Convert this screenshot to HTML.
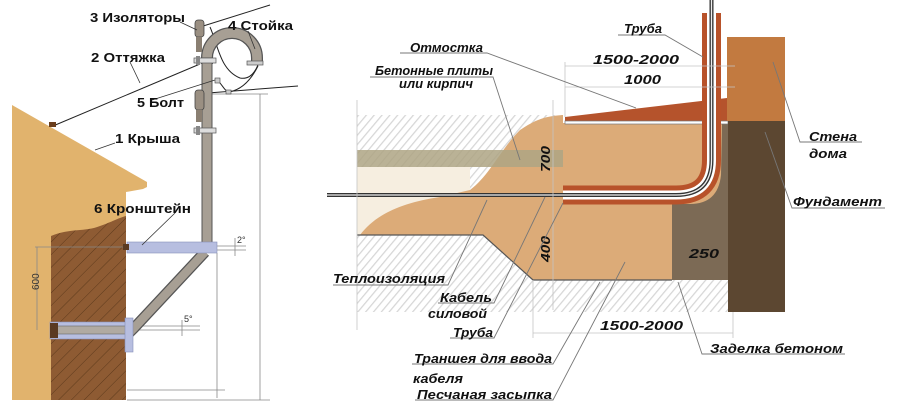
<!DOCTYPE html>
<html><head><meta charset="utf-8"><style>
html,body{margin:0;padding:0;background:#fff;}
svg{display:block;}
.l{font-family:"Liberation Sans",sans-serif;font-weight:bold;font-size:13px;fill:#111;}
.r{font-family:"Liberation Sans",sans-serif;font-weight:bold;font-style:italic;font-size:13px;fill:#111;}
</style></head><body>
<svg width="900" height="413" viewBox="0 0 900 413" xmlns="http://www.w3.org/2000/svg">
<defs>
<pattern id="h" width="6" height="6" patternUnits="userSpaceOnUse" patternTransform="rotate(40)">
<rect width="6" height="6" fill="#fff"/><line x1="0" y1="0" x2="0" y2="6" stroke="#d6d6d6" stroke-width="2.5"/></pattern>
<pattern id="b" width="9" height="9" patternUnits="userSpaceOnUse" patternTransform="rotate(45)">
<rect width="9" height="9" fill="#8e5b33"/><line x1="0" y1="0" x2="0" y2="9" stroke="#5e3a1c" stroke-width="1"/></pattern>
</defs>

<!-- LEFT DIAGRAM -->
<polygon points="12,105 147,182 147,187 143,189 126,192 126,400 12,400" fill="#e1b36d"/>
<path d="M51,236 C70,228 85,232 100,226 C112,222 118,218 126,216 L126,400 L51,400 Z" fill="url(#b)"/>
<!-- dimension lines -->
<g stroke="#888" stroke-width="0.8" fill="none">
<line x1="35" y1="247" x2="127" y2="247"/>
<line x1="37" y1="247" x2="37" y2="330"/>
<line x1="217" y1="253" x2="217" y2="398"/>
<line x1="127" y1="390" x2="225" y2="390"/>
<line x1="127" y1="400" x2="270" y2="400"/>
<line x1="260" y1="94" x2="260" y2="400"/>
<line x1="208" y1="94" x2="268" y2="94"/>
<line x1="217" y1="246" x2="246" y2="246"/>
<line x1="217" y1="250" x2="246" y2="250"/>
<line x1="235" y1="238" x2="235" y2="256"/>
<line x1="133" y1="326" x2="200" y2="326"/>
<line x1="133" y1="330" x2="200" y2="330"/>
<line x1="182" y1="320" x2="182" y2="336"/>
</g>
<text x="237" y="243" font-family="Liberation Sans" font-size="9" fill="#333">2°</text>
<text x="184" y="322" font-family="Liberation Sans" font-size="9" fill="#333">5°</text>
<text transform="translate(39,290) rotate(-90)" font-family="Liberation Sans" font-size="10" fill="#333">600</text>
<!-- wires -->
<g stroke="#222" stroke-width="1" fill="none">
<line x1="200" y1="27" x2="270" y2="5"/>
<line x1="208" y1="93" x2="298" y2="86"/>
<line x1="200" y1="64" x2="53" y2="126"/>
<path d="M210,27 C218,45 220,70 240,78 C250,80 255,72 258,65"/>
<path d="M258,66 C250,82 240,90 229,92"/>
<path d="M217,80 C222,84 224,90 228,92"/>
</g>
<rect x="49" y="122" width="7" height="5" fill="#6a3d1b"/>
<!-- arc stoika -->
<path d="M207,64 L207,58 A25,25 0 0 1 257,58 L257,62" fill="none" stroke="#555" stroke-width="12"/>
<path d="M207,64 L207,58 A25,25 0 0 1 257,58 L257,62" fill="none" stroke="#a79f94" stroke-width="9.5"/>
<rect x="247" y="61" width="16" height="4" fill="#ccc" stroke="#555" stroke-width="0.7"/>
<!-- pole -->
<rect x="202" y="58" width="10" height="187" fill="#a79f94" stroke="#555" stroke-width="1"/>
<rect x="195" y="20" width="9" height="17" rx="3" fill="#9a8f82" stroke="#444" stroke-width="0.8"/>
<rect x="195" y="90" width="9" height="20" rx="3" fill="#9a8f82" stroke="#444" stroke-width="0.8"/>
<rect x="196" y="37" width="6" height="15" fill="#8a7f72"/>
<rect x="196" y="110" width="6" height="12" fill="#8a7f72"/>
<rect x="194" y="58" width="22" height="5" fill="#ddd" stroke="#555" stroke-width="0.7"/>
<rect x="194" y="128" width="22" height="5" fill="#ddd" stroke="#555" stroke-width="0.7"/>
<rect x="196" y="56" width="4" height="9" fill="#888"/>
<rect x="196" y="126" width="4" height="9" fill="#888"/>
<rect x="215" y="78" width="5" height="5" fill="#ccc" stroke="#444" stroke-width="0.6"/>
<rect x="226" y="90" width="5" height="4" fill="#ccc" stroke="#444" stroke-width="0.6"/>
<!-- bracket -->
<path d="M205,252 L134,328 L128,334" fill="none" stroke="#555" stroke-width="11"/>
<path d="M205,252 L134,328 L128,334" fill="none" stroke="#a79f94" stroke-width="8.5"/>
<rect x="127" y="242" width="90" height="11" fill="#b7bee0" stroke="#8890b8" stroke-width="0.6"/>
<rect x="123" y="244" width="6" height="6" fill="#5a3a22"/>
<rect x="50" y="322" width="78" height="17" fill="#b7bee0" stroke="#8890b8" stroke-width="0.6"/>
<rect x="52" y="326" width="76" height="8" fill="#b0aaa2" stroke="#666" stroke-width="0.6"/>
<rect x="50" y="323" width="8" height="15" fill="#5a3a22"/>
<rect x="125" y="318" width="8" height="34" fill="#b7bee0" stroke="#8890b8" stroke-width="0.6"/>
<!-- left labels -->
<g stroke="#333" stroke-width="0.8">
<line x1="180" y1="22" x2="197" y2="30"/>
<line x1="248" y1="31" x2="255" y2="49"/>
<line x1="130" y1="62" x2="140" y2="83"/>
<line x1="152" y1="100" x2="215" y2="80"/>
<line x1="115" y1="143" x2="95" y2="150"/>
<line x1="175" y1="213" x2="142" y2="245"/>
</g>
<text class="l" x="90" y="22" textLength="95" lengthAdjust="spacingAndGlyphs">3 Изоляторы</text>
<text class="l" x="228" y="30" textLength="65" lengthAdjust="spacingAndGlyphs">4 Стойка</text>
<text class="l" x="91" y="62" textLength="74" lengthAdjust="spacingAndGlyphs">2 Оттяжка</text>
<text class="l" x="137" y="107" textLength="47" lengthAdjust="spacingAndGlyphs">5 Болт</text>
<text class="l" x="115" y="143" textLength="65" lengthAdjust="spacingAndGlyphs">1 Крыша</text>
<text class="l" x="94" y="213" textLength="97" lengthAdjust="spacingAndGlyphs">6 Кронштейн</text>

<!-- RIGHT DIAGRAM -->
<rect x="357" y="115" width="206" height="85" fill="url(#h)"/>
<rect x="357" y="200" width="371" height="112" fill="url(#h)"/>
<path d="M357,167 L470,167 L470,235 L357,235 Z" fill="#f6eee0"/>
<path d="M357,196 L440,196 L440,235 L357,235 Z" fill="#f6eee0"/>
<path d="M360,235 C375,215 400,203 440,197 L470,190 C490,175 500,150 520,130 C535,120 545,116 563,115 L563,123 L728,123 L728,280 L533,280 L483,235 Z" fill="#dcab78"/>
<path d="M357,235 L483,235 L533,280 L672,280" fill="none" stroke="#555" stroke-width="1.2"/>
<rect x="357" y="150" width="206" height="17" fill="#aea484" opacity="0.85"/>
<path d="M672,204 L690,204 Q718,204 721,175 L722,123 L728,123 L728,280 L672,280 Z" fill="#7c6a55"/>
<!-- otmostka -->
<polygon points="565,117 727,98 727,122 565,122" fill="#b5532c"/>
<rect x="565" y="121" width="163" height="3" fill="#fff" stroke="#777" stroke-width="0.7"/>
<!-- wall & foundation -->
<rect x="727" y="37" width="58" height="84" fill="#c27a40"/>
<rect x="728" y="121" width="57" height="191" fill="#5c4731"/>
<!-- pipe -->
<path d="M711.5,13 L711.5,160 Q711.5,195 676,195 L563,195" fill="none" stroke="#b8522a" stroke-width="19"/>
<path d="M711.5,13 L711.5,160 Q711.5,195 676,195 L563,195" fill="none" stroke="#fff" stroke-width="9"/>
<path d="M711.5,0 L711.5,160 Q711.5,195 676,195 L327,195" fill="none" stroke="#333" stroke-width="4"/>
<path d="M711.5,0 L711.5,160 Q711.5,195 676,195 L327,195" fill="none" stroke="#eee" stroke-width="1.3"/>
<!-- dim lines -->
<g stroke="#c4c4c4" stroke-width="0.8" fill="none">
<line x1="553" y1="100" x2="553" y2="310"/>
<line x1="565" y1="66" x2="735" y2="66"/>
<line x1="565" y1="87" x2="735" y2="87"/>
<line x1="565" y1="62" x2="565" y2="117"/>
<line x1="357" y1="100" x2="357" y2="330"/>
<line x1="533" y1="333" x2="733" y2="333"/>
<line x1="733" y1="312" x2="733" y2="338"/>
<line x1="533" y1="280" x2="533" y2="338"/>
</g>
<text class="r" transform="translate(550,172) rotate(-90)" textLength="26" lengthAdjust="spacingAndGlyphs">700</text>
<text class="r" transform="translate(550,262) rotate(-90)" textLength="26" lengthAdjust="spacingAndGlyphs">400</text>
<text class="r" x="689" y="258" textLength="30" lengthAdjust="spacingAndGlyphs">250</text>
<text class="r" x="593" y="64" textLength="86" lengthAdjust="spacingAndGlyphs" font-size="14">1500-2000</text>
<text class="r" x="624" y="84" textLength="37" lengthAdjust="spacingAndGlyphs" font-size="14">1000</text>
<text class="r" x="600" y="330" textLength="83" lengthAdjust="spacingAndGlyphs" font-size="14">1500-2000</text>
<!-- leaders -->
<g stroke="#777" stroke-width="0.9" fill="none">
<path d="M618,35 L665,35 L703,57"/>
<path d="M400,53 L487,53 L636,108"/>
<path d="M370,77 L493,77 L520,160"/>
<path d="M333,285 L448,285 L487,200"/>
<path d="M438,303 L494,303 L545,197"/>
<path d="M450,338 L494,338 L563,203"/>
<path d="M412,364 L553,364 L600,282"/>
<path d="M415,400 L553,400 L625,262"/>
<path d="M845,354 L702,354 L678,282"/>
<path d="M862,142 L800,142 L773,62"/>
<path d="M885,208 L792,208 L765,132"/>
</g>
<text class="r" x="624" y="33" textLength="38" lengthAdjust="spacingAndGlyphs">Труба</text>
<text class="r" x="410" y="52" textLength="73" lengthAdjust="spacingAndGlyphs">Отмостка</text>
<text class="r" x="375" y="75" textLength="118" lengthAdjust="spacingAndGlyphs">Бетонные плиты</text>
<text class="r" x="399" y="88" textLength="74" lengthAdjust="spacingAndGlyphs">или кирпич</text>
<text class="r" x="333" y="283" textLength="112" lengthAdjust="spacingAndGlyphs">Теплоизоляция</text>
<text class="r" x="440" y="302" textLength="52" lengthAdjust="spacingAndGlyphs">Кабель</text>
<text class="r" x="428" y="318" textLength="59" lengthAdjust="spacingAndGlyphs">силовой</text>
<text class="r" x="453" y="337" textLength="40" lengthAdjust="spacingAndGlyphs">Труба</text>
<text class="r" x="414" y="363" textLength="138" lengthAdjust="spacingAndGlyphs">Траншея для ввода</text>
<text class="r" x="413" y="383" textLength="50" lengthAdjust="spacingAndGlyphs">кабеля</text>
<text class="r" x="417" y="399" textLength="135" lengthAdjust="spacingAndGlyphs">Песчаная засыпка</text>
<text class="r" x="809" y="141" textLength="48" lengthAdjust="spacingAndGlyphs">Стена</text>
<text class="r" x="809" y="158" textLength="38" lengthAdjust="spacingAndGlyphs">дома</text>
<text class="r" x="793" y="206" textLength="89" lengthAdjust="spacingAndGlyphs">Фундамент</text>
<text class="r" x="710" y="353" textLength="133" lengthAdjust="spacingAndGlyphs">Заделка бетоном</text>
</svg>
</body></html>
